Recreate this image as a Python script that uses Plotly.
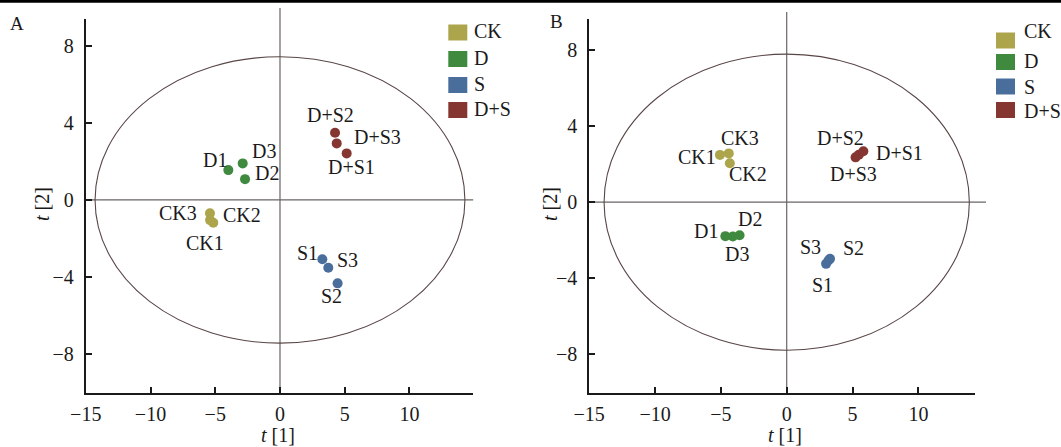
import plotly.graph_objects as go

W, H = 1061, 447

# ---------------- data ----------------
groups = ["CK", "D", "S", "D+S"]
group_colors = ["#ADA54B", "#3F8A3E", "#4A6E9C", "#853630"]

# Panel A scores
A_CK_names = ["CK1", "CK2", "CK3"]
A_CK_t1 = [-5.15, -5.40, -5.41]
A_CK_t2 = [-1.19, -1.05, -0.70]
A_D_names = ["D1", "D2", "D3"]
A_D_t1 = [-3.99, -2.70, -2.88]
A_D_t2 = [1.55, 1.08, 1.90]
A_S_names = ["S1", "S2", "S3"]
A_S_t1 = [3.27, 4.45, 3.73]
A_S_t2 = [-3.09, -4.34, -3.53]
A_DS_names = ["D+S1", "D+S2", "D+S3"]
A_DS_t1 = [5.15, 4.25, 4.38]
A_DS_t2 = [2.42, 3.49, 2.94]

# Panel B scores
B_CK_names = ["CK1", "CK2", "CK3"]
B_CK_t1 = [-5.07, -4.32, -4.40]
B_CK_t2 = [2.49, 2.05, 2.57]
B_D_names = ["D1", "D2", "D3"]
B_D_t1 = [-4.66, -3.58, -4.09]
B_D_t2 = [-1.79, -1.74, -1.81]
B_S_names = ["S1", "S2", "S3"]
B_S_t1 = [2.99, 3.29, 3.17]
B_S_t2 = [-3.25, -2.98, -3.07]
B_DS_names = ["D+S1", "D+S2", "D+S3"]
B_DS_t1 = [5.82, 5.48, 5.23]
B_DS_t2 = [2.68, 2.50, 2.36]

# Hotelling T2 ellipse semi-axes
A_ellipse_t1 = 14.28
A_ellipse_t2 = 7.45
B_ellipse_t1 = 13.87
B_ellipse_t2 = 7.80

x_ticks = [-15, -10, -5, 0, 5, 10]
y_ticks = [-8, -4, 0, 4, 8]

# ---------------- style / layout ----------------
FONT = "Liberation Serif, Times New Roman, serif"
TXT = "#1a1a1a"
FS = 20

# label offsets in pixels (dx right, dy down)
A_offsets = {
    "CK1": (-8, 20), "CK2": (32, -5), "CK3": (-32, 0),
    "D1": (-13, -10), "D2": (22, -6), "D3": (21, -12),
    "S1": (-15, -6), "S2": (-6, 13), "S3": (19, -8),
    "D+S1": (5, 14), "D+S2": (-5, -18), "D+S3": (41, -6),
}
B_offsets = {
    "CK1": (-23, 2), "CK2": (18, 11), "CK3": (11, -15),
    "D1": (-19, -5), "D2": (10, -16), "D3": (4, 17),
    "S1": (-4, 21), "S2": (23, -11), "S3": (-18, -13),
    "D+S1": (36, 2), "D+S2": (-18, -17), "D+S3": (-2, 17),
}

A_xrange = [-15.0, 14.92]
A_yrange = [-10.06, 9.41]
B_xrange = [-15.0, 14.3]
B_yrange = [-10.07, 9.65]

A_dom_px = (85.75, 473.2)
B_dom_px = (589.2, 975.0)
Y_dom_px = (19.0, 393.3)   # top, bottom


def px(xp):
    return xp / W


def py(yp):
    return 1 - yp / H


fig = go.Figure()

panels = [
    ("x", "y", [(A_CK_names, A_CK_t1, A_CK_t2), (A_D_names, A_D_t1, A_D_t2),
                (A_S_names, A_S_t1, A_S_t2), (A_DS_names, A_DS_t1, A_DS_t2)], A_offsets),
    ("x2", "y2", [(B_CK_names, B_CK_t1, B_CK_t2), (B_D_names, B_D_t1, B_D_t2),
                  (B_S_names, B_S_t1, B_S_t2), (B_DS_names, B_DS_t1, B_DS_t2)], B_offsets),
]

annotations = []
for xa, ya, series, offs in panels:
    for g, col, (names, t1, t2) in zip(groups, group_colors, series):
        fig.add_trace(go.Scatter(
            x=t1, y=t2, mode="markers", name=g, xaxis=xa, yaxis=ya,
            marker=dict(color=col, size=10, line=dict(width=0)),
            showlegend=False, cliponaxis=False,
        ))
        for n, xv, yv in zip(names, t1, t2):
            dx, dy = offs[n]
            annotations.append(dict(
                x=xv, y=yv, xref=xa, yref=ya, text=n, showarrow=False,
                xanchor="center", yanchor="middle", xshift=dx, yshift=-dy,
                font=dict(family=FONT, size=FS, color=TXT),
            ))

shapes = []
# ellipses
for xa, ya, ea, eb in [("x", "y", A_ellipse_t1, A_ellipse_t2), ("x2", "y2", B_ellipse_t1, B_ellipse_t2)]:
    shapes.append(dict(type="circle", xref=xa, yref=ya, x0=-ea, x1=ea, y0=-eb, y1=eb,
                       line=dict(color="#5a4646", width=1.1), layer="below"))

ZL = dict(color="#6a6464", width=1.2)
# zero lines panel A
shapes.append(dict(type="line", xref="x", yref="paper", x0=0, x1=0,
                   y0=py(Y_dom_px[1]), y1=py(8), line=ZL, layer="below"))
shapes.append(dict(type="line", xref="paper", yref="y", x0=px(A_dom_px[0]), x1=px(A_dom_px[1]),
                   y0=0, y1=0, line=ZL, layer="below"))
# zero lines panel B
shapes.append(dict(type="line", xref="x2", yref="paper", x0=0, x1=0,
                   y0=py(Y_dom_px[1]), y1=py(12), line=ZL, layer="below"))
shapes.append(dict(type="line", xref="paper", yref="y2", x0=px(B_dom_px[0]), x1=px(B_dom_px[1] + 11),
                   y0=0, y1=0, line=ZL, layer="below"))
# top rule
shapes.append(dict(type="line", xref="paper", yref="paper", x0=0, x1=1, y0=py(1.3), y1=py(1.3),
                   line=dict(color="black", width=3)))

# legends (drawn as key squares + text)
legendA = dict(sq_x=(448.3, 467.3), rows=[32.5, 59, 85, 110], text_x=471.5, text_rows=[31.5, 58.5, 84, 108.5])
legendB = dict(sq_x=(996, 1015), rows=[40.5, 62, 86.5, 110], text_x=1021.5, text_rows=[31.5, 61.5, 86.5, 111])
for lg in (legendA, legendB):
    for g, col, rc, tr in zip(groups, group_colors, lg["rows"], lg["text_rows"]):
        shapes.append(dict(type="rect", xref="paper", yref="paper",
                           x0=px(lg["sq_x"][0]), x1=px(lg["sq_x"][1]),
                           y0=py(rc + 8), y1=py(rc - 8),
                           fillcolor=col, line=dict(width=0)))
        annotations.append(dict(x=px(lg["text_x"]), y=py(tr), xref="paper", yref="paper",
                                text=g, showarrow=False, xanchor="left", yanchor="middle",
                                font=dict(family=FONT, size=FS, color=TXT)))

# panel letters
annotations.append(dict(x=px(16.5), y=py(23), xref="paper", yref="paper", text="A", showarrow=False,
                        xanchor="center", yanchor="middle", font=dict(family=FONT, size=19, color=TXT)))
annotations.append(dict(x=px(556.5), y=py(22), xref="paper", yref="paper", text="B", showarrow=False,
                        xanchor="center", yanchor="middle", font=dict(family=FONT, size=19, color=TXT)))

# axis titles
for cx in ((A_dom_px[0] + A_dom_px[1]) / 2 - 1, (B_dom_px[0] + B_dom_px[1]) / 2 + 3):
    annotations.append(dict(x=px(cx), y=py(447), xref="paper", yref="paper", text="<i>t</i> [1]",
                            showarrow=False, xanchor="center", yanchor="bottom", borderpad=0,
                            font=dict(family=FONT, size=FS, color=TXT)))
for cx in (42, 550):
    annotations.append(dict(x=px(cx), y=py(204), xref="paper", yref="paper", text="<i>t</i> [2]",
                            showarrow=False, xanchor="center", yanchor="middle", textangle=-90,
                            font=dict(family=FONT, size=FS, color=TXT)))

axis_common = dict(
    showline=True, linecolor="#1a1a1a", linewidth=2, mirror=False,
    showgrid=False, zeroline=False, automargin=False,
    ticks="inside", ticklen=6, tickwidth=1.5, tickcolor="#1a1a1a",
    tickfont=dict(family=FONT, size=FS, color=TXT),
    fixedrange=True,
)

fig.update_layout(
    width=W, height=H,
    margin=dict(l=0, r=0, t=0, b=0, pad=0),
    paper_bgcolor="white", plot_bgcolor="white",
    showlegend=False,
    xaxis=dict(domain=[px(A_dom_px[0]), px(A_dom_px[1])], range=A_xrange, tickvals=x_ticks,
               anchor="y", ticklabelstandoff=2, **axis_common),
    yaxis=dict(domain=[py(Y_dom_px[1]), py(Y_dom_px[0])], range=A_yrange, tickvals=y_ticks,
               anchor="x", ticklabelstandoff=6, **axis_common),
    xaxis2=dict(domain=[px(B_dom_px[0]), px(B_dom_px[1])], range=B_xrange, tickvals=x_ticks,
                anchor="y2", ticklabelstandoff=2, **axis_common),
    yaxis2=dict(domain=[py(Y_dom_px[1]), py(Y_dom_px[0])], range=B_yrange, tickvals=y_ticks,
                anchor="x2", ticklabelstandoff=6, **axis_common),
    shapes=shapes,
    annotations=annotations,
)

fig.write_html(
    "out.html",
    config={"displayModeBar": False},
    post_script="document.body.style.margin='0px';document.body.style.padding='0px';",
)
